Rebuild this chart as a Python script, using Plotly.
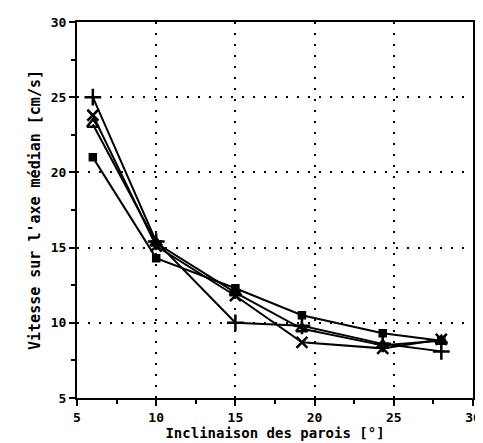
import plotly.graph_objects as go

# angle of the walls (deg) and centreline velocity (cm/s)
x_plus = [6, 10, 15, 19.2, 24.3, 28]
y_plus = [25.0, 15.4, 10.0, 9.8, 8.6, 8.1]

x_cross = [6, 10, 15, 19.2, 24.3, 28]
y_cross = [23.8, 15.1, 11.8, 8.7, 8.3, 8.9]

x_tri = [6, 10, 15, 19.2, 24.3, 28]
y_tri = [23.2, 15.3, 12.0, 9.6, 8.5, 8.8]

x_sq = [6, 10, 15, 19.2, 24.3, 28]
y_sq = [21.0, 14.3, 12.3, 10.5, 9.3, 8.8]

series = [
    (x_plus, y_plus, "cross-thin-open", 12),
    (x_cross, y_cross, "x-thin-open", 11),
    (x_tri, y_tri, "triangle-up-open", 10),
    (x_sq, y_sq, "square", 6),
]

fig = go.Figure()
for xs, ys, sym, sz in series:
    fig.add_trace(go.Scatter(
        x=xs, y=ys, mode="lines+markers",
        line=dict(color="black", width=2),
        marker=dict(symbol=sym, size=sz, color="black",
                    line=dict(color="black", width=2.5)),
        showlegend=False,
    ))

mono = "DejaVu Sans Mono"

axis_common = dict(
    showline=True, linecolor="black", linewidth=2, mirror=True,
    showgrid=True, gridcolor="black", gridwidth=2, griddash="2px,9px",
    zeroline=False, ticks="outside", ticklen=6, tickwidth=2, tickcolor="black",
    tickfont=dict(family=mono, size=13, color="black", weight="bold"),
    minor=dict(dtick=2.5, ticks="outside", ticklen=4, tickwidth=2, tickcolor="black", showgrid=False),
    automargin=False,
)

fig.update_xaxes(
    range=[5, 30], dtick=5, tick0=5,
    title=dict(text="Inclinaison des parois [°]", standoff=0,
               font=dict(family=mono, size=14, color="black", weight="bold")),
    **axis_common,
)
fig.update_yaxes(
    range=[5, 30], dtick=5, tick0=5,
    title=dict(text="Vitesse sur l'axe médian [cm/s]", standoff=6,
               font=dict(family=mono, size=15, color="black", weight="bold")),
    **axis_common,
)

fig.update_layout(
    width=483, height=443,
    margin=dict(l=69, r=18, t=14, b=53),
    paper_bgcolor="white", plot_bgcolor="white",
    font=dict(family=mono, size=13, color="black"),
)

fig.write_html("out.html")
